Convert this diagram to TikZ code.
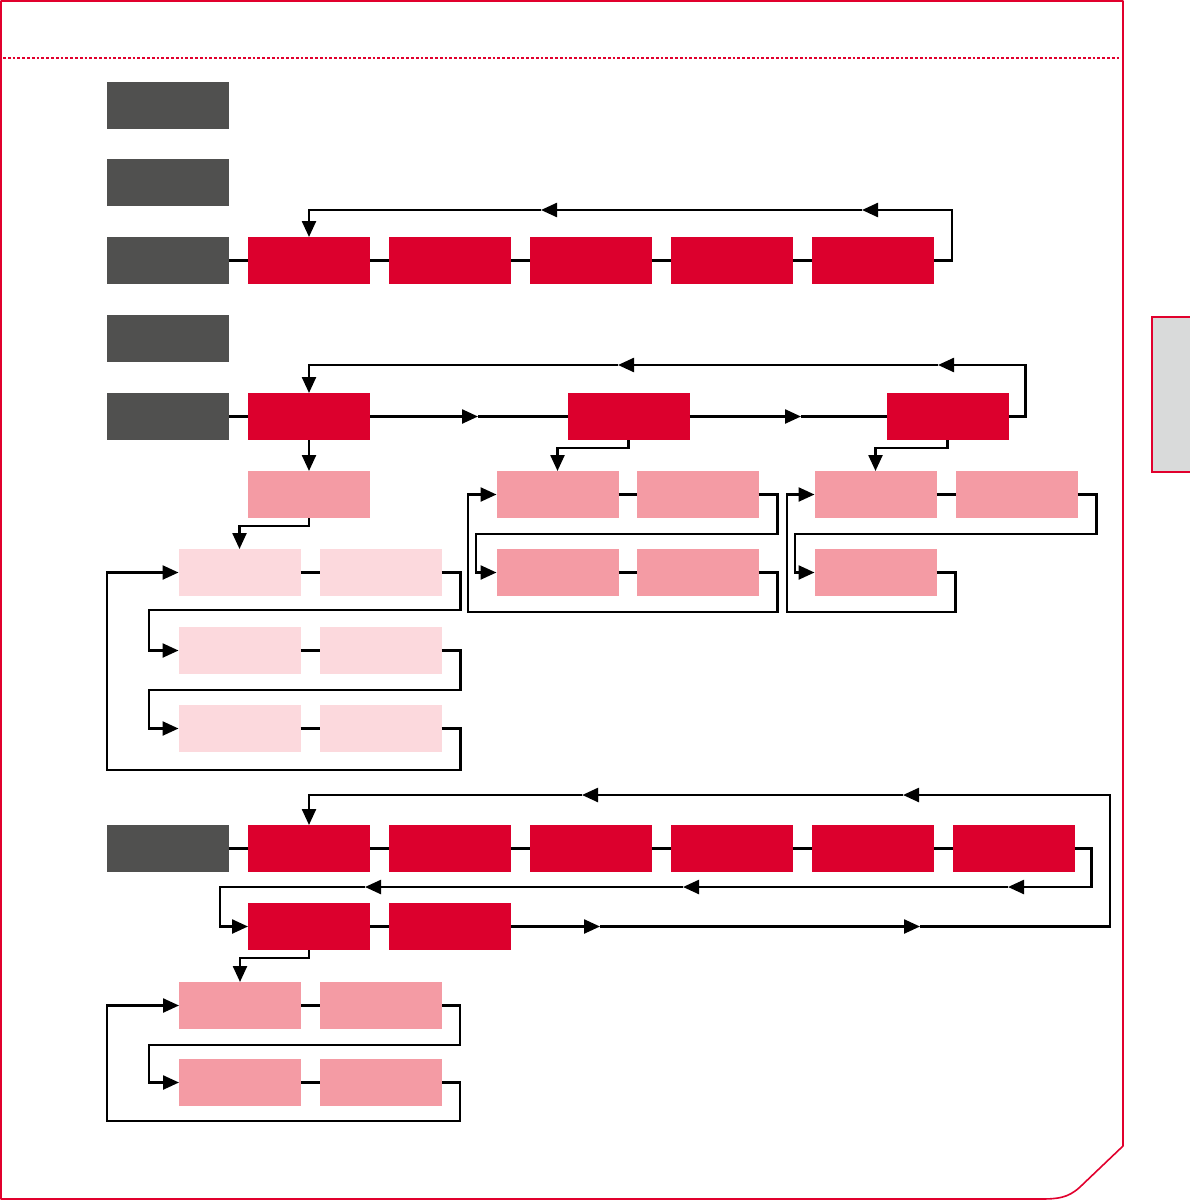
\documentclass[tikz,border=0pt]{standalone}
\usetikzlibrary{arrows.meta,calc}
\definecolor{dgray}{RGB}{80,80,79}
\definecolor{bred}{RGB}{220,0,45}
\definecolor{mpink}{RGB}{244,155,164}
\definecolor{lpink}{RGB}{252,217,221}
\definecolor{framered}{RGB}{225,0,45}
\definecolor{tabgray}{RGB}{217,218,218}
\begin{document}
\begin{tikzpicture}[x=1pt,y=-1pt,
  box/.style={minimum width=122pt,minimum height=47pt,inner sep=0pt,outer sep=0pt},
  gbox/.style={box,fill=dgray},
  rbox/.style={box,fill=bred},
  pbox/.style={box,fill=mpink},
  lbox/.style={box,fill=lpink},
  conn/.style={line width=2.4pt,black},
  arr/.style={conn,-{Triangle[length=16pt,width=14pt]}},
  framel/.style={line width=1.6pt,framered}
]
\useasboundingbox (0,0) rectangle (1190,1202);
% frame
\draw[framel,line join=round] (1,1) -- (1123,1) -- (1123,1146) -- (1080,1187)
   .. controls (1068,1198) and (1058,1199) .. (1040,1199) -- (1,1199) -- cycle;
\draw[framered,line width=2.2pt,dash pattern=on 2.8pt off 2pt] (3,58) -- (1120,58);
\draw[framel,line width=1.2pt,fill=tabgray] (1196,317) -- (1152,317) -- (1152,472) -- (1196,472);

% gray boxes
\node[gbox] (g1) at (168,105.5) {};
\node[gbox] (g2) at (168,182.5) {};
\node[gbox] (g3) at (168,260.5) {};
\node[gbox] (g4) at (168,338.5) {};
\node[gbox] (g5) at (168,416.5) {};
\node[gbox] (g6) at (168,848.5) {};

% row 3
\foreach \i/\x in {1/309,2/450,3/591,4/732,5/873}
  \node[rbox] (a\i) at (\x,260.5) {};
\draw[conn] (g3.east) -- (a1.west);
\draw[conn] (a1.east) -- (a2.west);
\draw[conn] (a2.east) -- (a3.west);
\draw[conn] (a3.east) -- (a4.west);
\draw[conn] (a4.east) -- (a5.west);
\draw[arr] (a5.east) -- ++(18,0) |- (862,210);
\draw[arr] (862,210) -- (541,210);
\draw[arr] (541,210) -| (a1.north);

% row 5
\node[rbox] (b1) at (309,416.5) {};
\node[rbox] (b2) at (628.5,416.5) {};
\node[rbox] (b3) at (947.5,416.5) {};
\draw[conn] (g5.east) -- (b1.west);
\draw[arr] (b1.east) -- (478,416.5);
\draw[conn] (478,416.5) -- (b2.west);
\draw[arr] (b2.east) -- (801,416.5);
\draw[conn] (801,416.5) -- (b3.west);
\draw[arr] (b3.east) -- ++(17,0) |- (938,365);
\draw[arr] (938,365) -- (618,365);
\draw[arr] (618,365) -| (b1.north);

% under b1
\node[pbox] (p0) at (309,494.5) {};
\draw[arr] (b1.south) -- (p0.north);
\node[lbox] (l11) at (239.5,572.5) {};
\node[lbox] (l12) at (380.5,572.5) {};
\node[lbox] (l21) at (239.5,650.5) {};
\node[lbox] (l22) at (380.5,650.5) {};
\node[lbox] (l31) at (239.5,728.5) {};
\node[lbox] (l32) at (380.5,728.5) {};
\draw[arr] (p0.south) -- ++(0,8) -| (l11.north);
\draw[conn] (l11.east) -- (l12.west);
\draw[conn] (l21.east) -- (l22.west);
\draw[conn] (l31.east) -- (l32.west);
\draw[arr] (l12.east) -- ++(19,0) |- (149,610) |- (l21.west);
\draw[arr] (l22.east) -- ++(19,0) |- (149,690) |- (l31.west);
\draw[arr] (l32.east) -- ++(19,0) |- (107,770) |- (l11.west);

% under b2
\node[pbox] (q11) at (557.5,494.5) {};
\node[pbox] (q12) at (697.5,494.5) {};
\node[pbox] (q21) at (557.5,572.5) {};
\node[pbox] (q22) at (697.5,572.5) {};
\draw[arr] (b2.south) -- ++(0,8) -| (q11.north);
\draw[conn] (q11.east) -- (q12.west);
\draw[conn] (q21.east) -- (q22.west);
\draw[arr] (q12.east) -- ++(19,0) |- (476,534) |- (q21.west);
\draw[arr] (q22.east) -- ++(19,0) |- (468,612) |- (q11.west);

% under b3
\node[pbox] (r11) at (875.5,494.5) {};
\node[pbox] (r12) at (1016.5,494.5) {};
\node[pbox] (r21) at (875.5,572.5) {};
\draw[arr] (b3.south) -- ++(0,8) -| (r11.north);
\draw[conn] (r11.east) -- (r12.west);
\draw[arr] (r12.east) -- ++(19,0) |- (795,534) |- (r21.west);
\draw[arr] (r21.east) -- ++(19,0) |- (787,612) |- (r11.west);

% bottom section
\foreach \i/\x in {1/309,2/450,3/591,4/732,5/873,6/1013.5}
  \node[rbox] (c\i) at (\x,848.5) {};
\node[rbox] (d1) at (309,926.5) {};
\node[rbox] (d2) at (450,926.5) {};
\draw[conn] (g6.east) -- (c1.west);
\draw[conn] (c1.east) -- (c2.west);
\draw[conn] (c2.east) -- (c3.west);
\draw[conn] (c3.east) -- (c4.west);
\draw[conn] (c4.east) -- (c5.west);
\draw[conn] (c5.east) -- (c6.west);
\draw[arr] (c6.east) -- ++(17,0) |- (1008,887);
\draw[arr] (1008,887) -- (683,887);
\draw[arr] (683,887) -- (365,887);
\draw[arr] (365,887) -| (220,926.5) -- (d1.west);
\draw[conn] (d1.east) -- (d2.west);
\draw[arr] (d2.east) -- (600,926.5);
\draw[arr] (600,926.5) -- (920,926.5);
\draw[arr] (920,926.5) -- (1110,926.5) |- (903,795);
\draw[arr] (903,795) -- (582,795);
\draw[arr] (582,795) -| (c1.north);

\node[pbox] (s11) at (240,1005.5) {};
\node[pbox] (s12) at (381,1005.5) {};
\node[pbox] (s21) at (240,1082.5) {};
\node[pbox] (s22) at (381,1082.5) {};
\draw[arr] (d1.south) -- ++(0,8) -| (s11.north);
\draw[conn] (s11.east) -- (s12.west);
\draw[conn] (s21.east) -- (s22.west);
\draw[arr] (s12.east) -- ++(18,0) |- (149,1045) |- (s21.west);
\draw[arr] (s22.east) -- ++(18,0) |- (107,1121) |- (s11.west);
\end{tikzpicture}
\end{document}
